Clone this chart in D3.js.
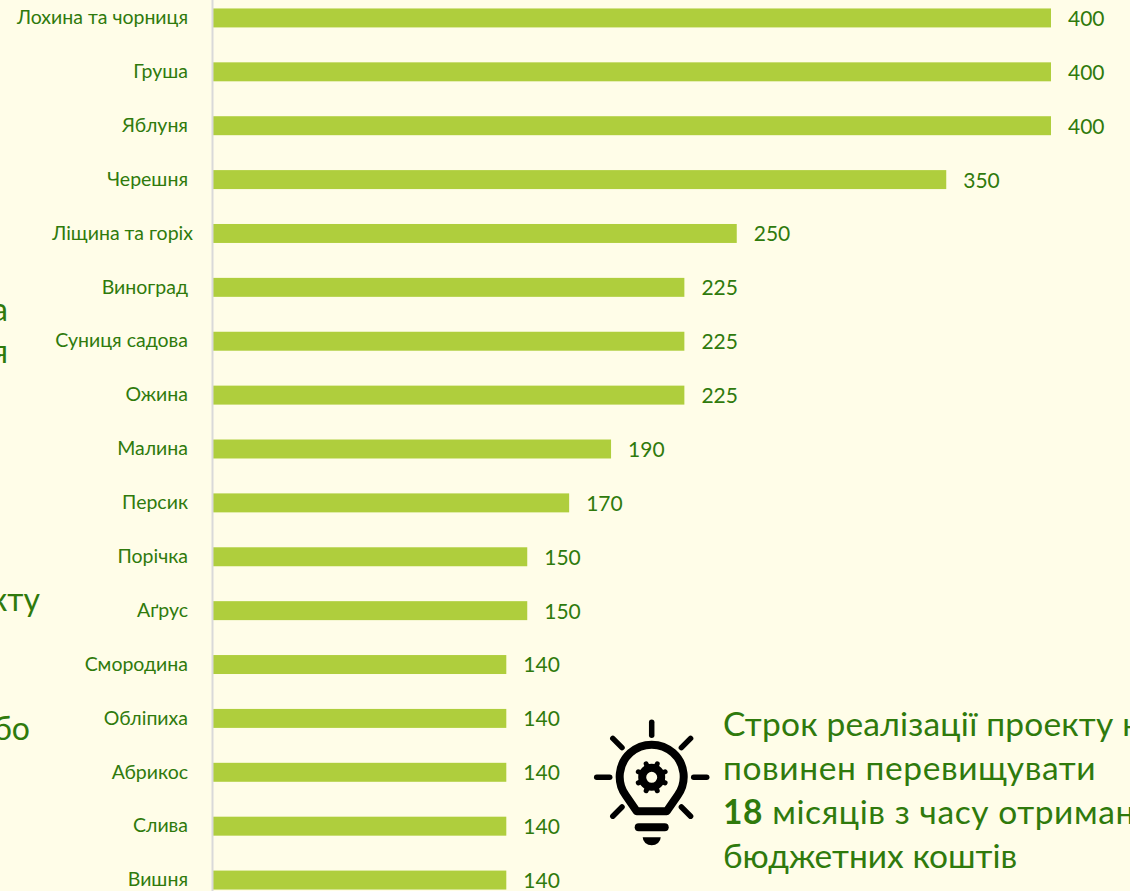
<!DOCTYPE html>
<html>
<head>
<meta charset="utf-8">
<script src="https://cdnjs.cloudflare.com/ajax/libs/d3/7.8.5/d3.min.js"></script>
<style>
  html, body { margin: 0; padding: 0; background: #fffde8; overflow: hidden; }
  text { font-family: Lato, "Open Sans", sans-serif; fill: #2f7a0c; }
</style>
</head>
<body>
<svg id="chart" width="1130" height="891"></svg>
<script>
const crops = ['Лохина та чорниця', 'Груша', 'Яблуня', 'Черешня', 'Ліщина та горіх', 'Виноград', 'Суниця садова', 'Ожина', 'Малина', 'Персик', 'Порічка', 'Аґрус', 'Смородина', 'Обліпиха', 'Абрикос', 'Слива', 'Вишня'];
const costs = [400, 400, 400, 350, 250, 225, 225, 225, 190, 170, 150, 150, 140, 140, 140, 140, 140];
const noteLines = [
  [['Строк реалізації проекту не', false]],
  [['повинен перевищувати', false]],
  [['18', true], [' місяців з часу отримання', false]],
  [['бюджетних коштів', false]]
];
// tails of the text block that is cut off by the left edge
const leftScraps = [['а', 310], ['я', 352], ['кту', 600], ['бо', 729]];

const svg = d3.select('#chart');

// Scales
const xScale = d3.scaleLinear().domain([0, 400]).range([213, 1051]);
const yScale = d3.scaleBand()
  .domain(crops)
  .range([-9, 907])
  .paddingInner(0.648)
  .paddingOuter(0.324);

// Bars
svg.selectAll('.bar')
  .data(crops)
  .enter()
  .append('rect')
    .attr('class', 'bar')
    .attr('x', xScale(0))
    .attr('y', (d) => yScale(d))
    .attr('width', (d, i) => xScale(costs[i]) - xScale(0))
    .attr('height', yScale.bandwidth())
    .attr('fill', '#afce3d');

// Y axis
const yAxis = svg.append('g')
  .attr('transform', `translate(${xScale(0) - 1}, 0)`)
  .call(d3.axisLeft(yScale).tickSize(0).tickPadding(24));
yAxis.select('.domain').attr('stroke', '#d9d9d9').attr('stroke-width', 2);
yAxis.selectAll('text')
  .attr('font-size', 19.5)
  .style('font-family', 'Lato, "Open Sans", sans-serif')
  .attr('dx', (d) => d === 'Ліщина та горіх' ? 5 : 0);

// Value labels
svg.selectAll('.value')
  .data(crops)
  .enter()
  .append('text')
    .attr('class', 'value')
    .attr('x', (d, i) => xScale(costs[i]) + 17)
    .attr('y', (d) => yScale(d) + yScale.bandwidth() / 2 + 0.6)
    .attr('dy', '0.35em')
    .attr('font-size', 21)
    .text((d, i) => costs[i]);

// Cut off text on the left
svg.selectAll('.scrap')
  .data(leftScraps)
  .enter()
  .append('text')
    .attr('class', 'scrap')
    .attr('x', (d) => d[0] === 'кту' ? 40 : d[0] === 'бо' ? 30 : 8)
    .attr('y', (d) => d[1])
    .attr('dy', '0.35em')
    .attr('text-anchor', 'end')
    .attr('font-size', 32)
    .text((d) => d[0]);

// Note on the right
const noteSpacing = [0.2, 0.6, 0.6, 0];
const note = svg.append('text').attr('font-size', 33.5);
noteLines.forEach((line, i) => {
  line.forEach((part, j) => {
    const span = note.append('tspan')
      .attr('font-weight', part[1] ? 700 : 400)
      .attr('letter-spacing', noteSpacing[i])
      .attr('xml:space', 'preserve')
      .text(part[0]);
    if (j === 0) {
      span.attr('x', 723).attr('y', 736 + i * 44);
    }
  });
});

// Lightbulb icon
const icon = svg.append('g')
  .attr('transform', 'translate(651.7, 777.3)')
  .attr('fill', 'none')
  .attr('stroke', '#000')
  .attr('stroke-linecap', 'round')
  .attr('stroke-linejoin', 'round');

icon.append('path')
  .attr('stroke-width', 8)
  .attr('d', 'M-15,34 L-26,18 A32,32 0 1 1 26,18 L15,34 Z');

const rayAngles = [0, 45, 90, 135, 225, 270, 315];
icon.selectAll('.ray')
  .data(rayAngles)
  .enter()
  .append('line')
    .attr('class', 'ray')
    .attr('stroke-width', 5.5)
    .attr('y1', -55)
    .attr('y2', -42)
    .attr('transform', (d) => `rotate(${d})`);

// Base of the bulb
icon.append('line').attr('stroke-width', 8).attr('x1', -13).attr('x2', 13).attr('y1', 50).attr('y2', 50);
icon.append('path')
  .attr('stroke', 'none')
  .attr('fill', '#000')
  .attr('d', 'M-9,60 H9 A9,8 0 0 1 -9,60 Z');

// Gear
const gearArc = d3.arc().innerRadius(5.5).outerRadius(13.5).startAngle(0).endAngle(2 * Math.PI);
icon.append('path').attr('stroke', 'none').attr('fill', '#000').attr('d', gearArc());
icon.selectAll('.tooth')
  .data(d3.range(8))
  .enter()
  .append('line')
    .attr('class', 'tooth')
    .attr('stroke-width', 5)
    .attr('y1', -12)
    .attr('y2', -14.5)
    .attr('transform', (d) => `rotate(${d * 45 + 22.5})`);
</script>
</body>
</html>
